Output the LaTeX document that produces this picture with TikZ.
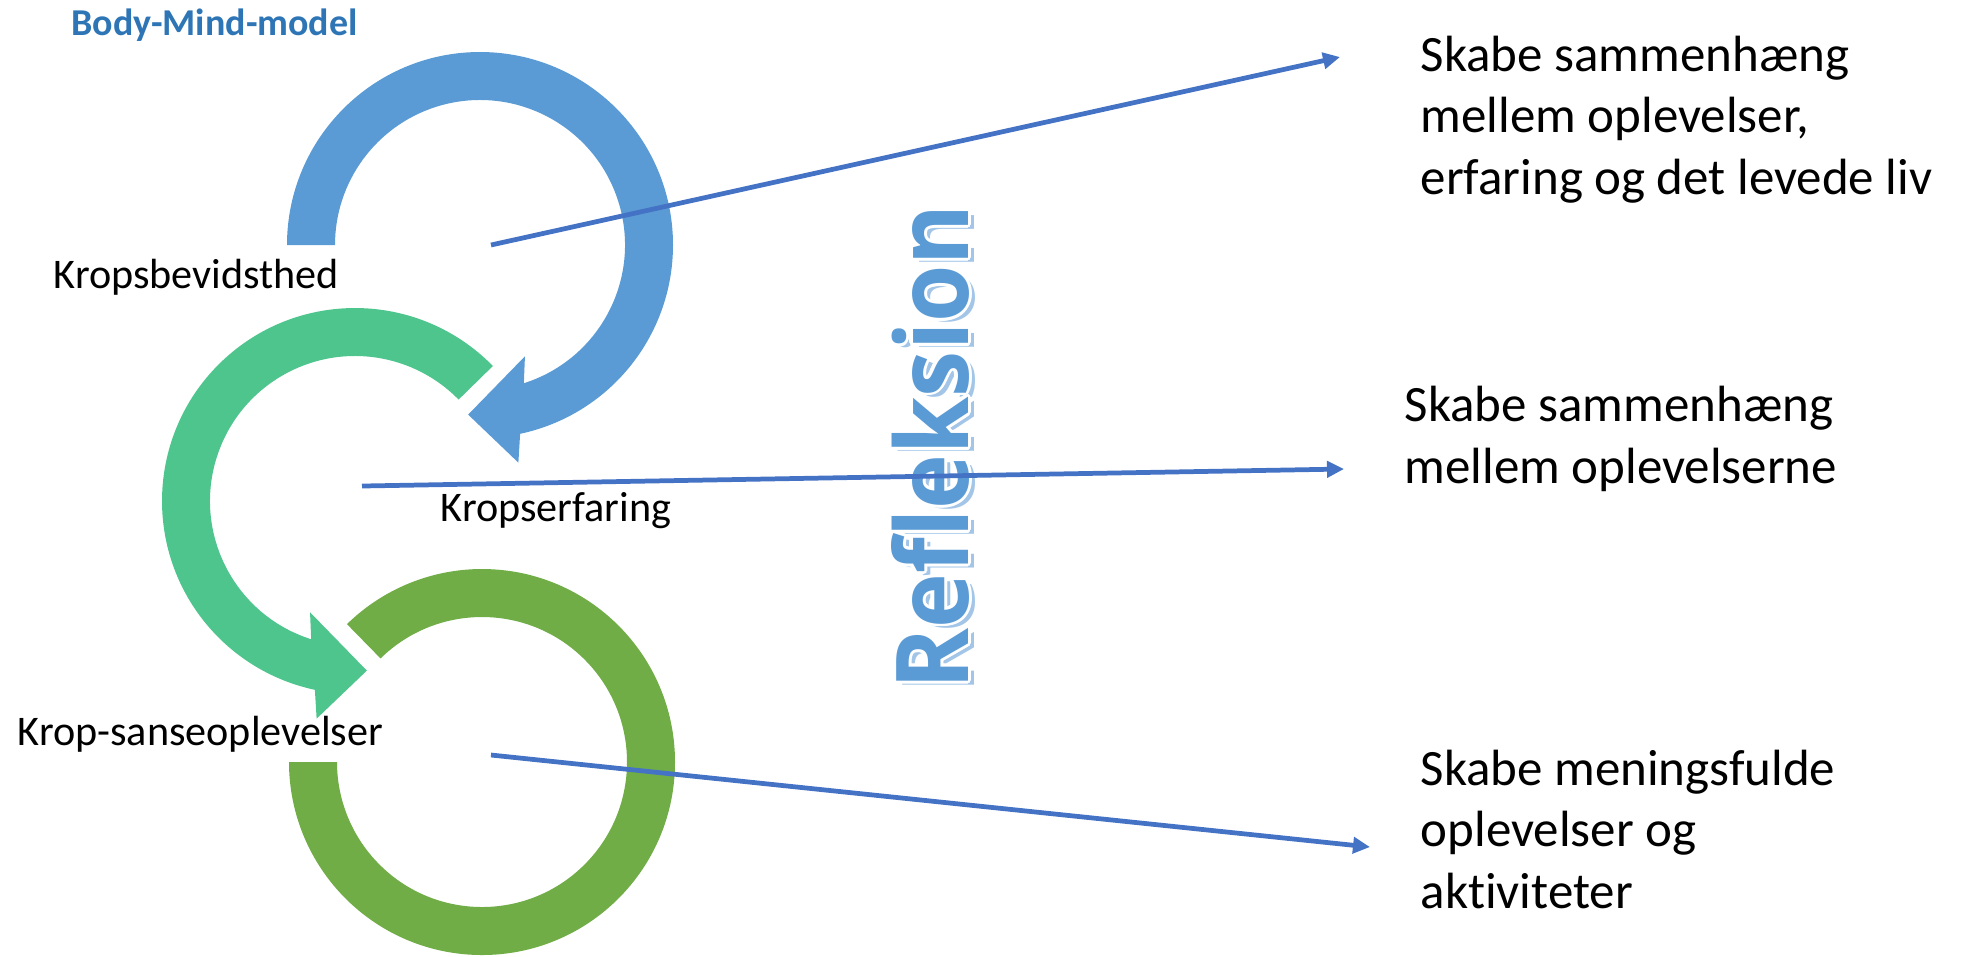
\documentclass[tikz,border=0pt]{standalone}
\usepackage{graphicx}
\usepackage{fontspec}
\setmainfont{Carlito}[Ligatures=NoCommon]
\newfontfamily\reflfont{Open Sans}[Ligatures=NoCommon]
\usepackage{contour}
\contourlength{0.3pt}
\usetikzlibrary{arrows.meta,positioning}

\definecolor{ringblue}{HTML}{5B9BD5}
\definecolor{ringteal}{HTML}{4FC58E}
\definecolor{ringolive}{HTML}{70AD47}
\definecolor{linkblue}{HTML}{4472C4}
\definecolor{titleblue}{HTML}{2E75B6}
\definecolor{shadeblue}{HTML}{A3C6E8}

\tikzset{
    ringlabel/.style={inner sep=0pt, anchor=base west, font=\fontsize{12}{14.4}\selectfont},
    goaltext/.style={inner sep=0pt, anchor=base west, align=left, font=\fontsize{14.5}{17.4}\selectfont},
    link/.style={linkblue, line width=1.35pt, -{Triangle[length=1.7mm,width=1.6mm]}},
    reflword/.style={inner sep=0pt, rotate=90, anchor=base west}
}

\begin{document}
\begin{tikzpicture}[x=0.1mm, y=0.1mm]
            \useasboundingbox (0,0) rectangle (1964,-956);

            \coordinate (blueC) at (480,-245);
            \coordinate (tealC) at (355,-501);
            \coordinate (oliveC) at (482,-762);

            \fill[ringblue, shift={(blueC)}] (180:145) -- (180:193)
                arc[start angle=180, end angle=-78, radius=193]
                -- (-80:221) -- (-94:170) -- (-68:120) -- (-72.4:145)
                arc[start angle=-72.4, end angle=180, radius=145] -- cycle;
            \fill[ringteal, shift={(tealC)}] (44.4:145) -- (44.4:193)
                arc[start angle=44.4, end angle=258, radius=193]
                -- (260:221) -- (274:170) -- (248:120) -- (252.4:145)
                arc[start angle=252.4, end angle=44.4, radius=145] -- cycle;
            \fill[ringolive, shift={(oliveC)}] (180:145) -- (180:193)
                arc[start angle=180, end angle=494.4, radius=193]
                -- (134.4:145)
                arc[start angle=134.4, end angle=-180, radius=145] -- cycle;

            \node[reflword, text=shadeblue] (reflshade) at (974,-694)
                {\resizebox{48.5mm}{7.7mm}{\reflfont\bfseries Refleksion}};
            \node[reflword, text=ringblue] (refl) at (968,-690)
                {\resizebox{48.5mm}{7.7mm}{\reflfont\bfseries\contour{white}{Refleksion}}};

            \node[inner sep=0pt, anchor=base west, text=titleblue,
                font=\fontsize{10.8}{13}\selectfont\bfseries] (title) at (71,-35) {Body-Mind-model};

            \node[ringlabel] (bevidst) at (53,-288) {Kropsbevidsthed};
            \node[ringlabel] (erfaring) at (440,-521) {Kropserfaring};
            \node[ringlabel] (sanse) at (17,-745) {Krop-sanseoplevelser};

            \node[goaltext] (goalTop) at (1420,-194) {Skabe sammenhæng\\mellem oplevelser,\\erfaring og det levede liv};
            \node[goaltext] (goalMid) at (1404,-483) {Skabe sammenhæng\\mellem oplevelserne};
            \node[goaltext] (goalLow) at (1420,-908) {Skabe meningsfulde\\oplevelser og\\aktiviteter};

            \coordinate (bevidstFrom) at (491,-245);
            \coordinate (bevidstTo) at (1340,-57);
            \coordinate (erfaringFrom) at (362,-486);
            \coordinate (erfaringTo) at (1344,-469);
            \coordinate (sanseFrom) at (491,-755);
            \coordinate (sanseTo) at (1370,-847);

            \draw[link] (bevidstFrom) -- (bevidstTo);
            \draw[link] (erfaringFrom) -- (erfaringTo);
            \draw[link] (sanseFrom) -- (sanseTo);
\end{tikzpicture}
\end{document}
